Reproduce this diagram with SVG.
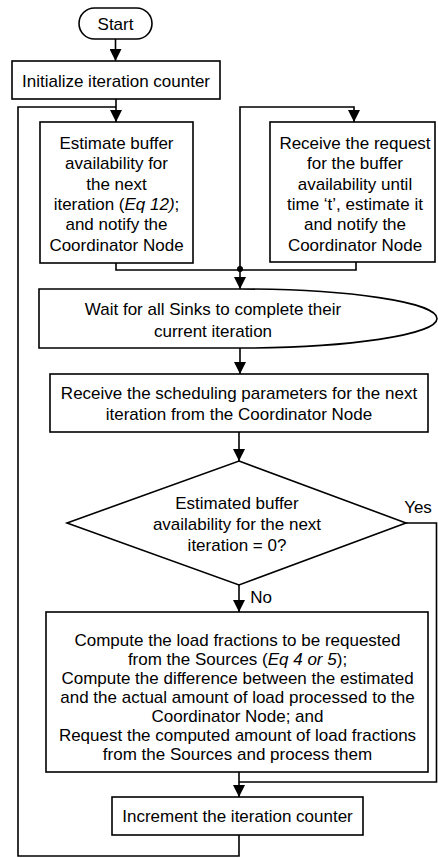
<svg xmlns="http://www.w3.org/2000/svg" width="438" height="858" viewBox="0 0 438 858">
<style>
.n{fill:#fff;stroke:#000;stroke-width:1.6}
.t{font-family:"Liberation Sans",Arial,sans-serif;font-size:17px;fill:#000;text-anchor:middle}
.c{fill:none;stroke:#000;stroke-width:1.6}
.i{font-style:italic}
</style>
<defs>
<marker id="ah" markerUnits="userSpaceOnUse" markerWidth="12" markerHeight="12" viewBox="0 0 12 12" refX="12" refY="6" orient="auto">
<path d="M0,0 L12,6 L0,12 Z" fill="#000"/>
</marker>
</defs>
<rect width="438" height="858" fill="#fff"/>
<g id="connectors">
<path class="c" d="M115.5,39 V61" marker-end="url(#ah)"/>
<path class="c" d="M116,99 V122" marker-end="url(#ah)"/>
<path class="c" d="M239,835 V856 H18 V107 H116"/>
<path class="c" d="M240,270 V107 H354 V122" marker-end="url(#ah)"/>
<path class="c" d="M116,263 V270 H356 V262"/>
<circle cx="240" cy="269" r="3" fill="#000"/>
<path class="c" d="M240,270 V289" marker-end="url(#ah)"/>
<path class="c" d="M240,348 V374" marker-end="url(#ah)"/>
<path class="c" d="M239,432 V461" marker-end="url(#ah)"/>
<path class="c" d="M239,585 V612" marker-end="url(#ah)"/>
<path class="c" d="M406,523 H436.5 V782 H239"/>
<path class="c" d="M239,772 V797" marker-end="url(#ah)"/>
<text class="t" x="418" y="513">Yes</text>
<text class="t" x="261" y="603">No</text>
</g>
<g id="start">
<rect class="n" x="79" y="8" width="73" height="31" rx="15.5"/>
<text class="t" x="115.5" y="30">Start</text>
</g>
<g id="init">
<rect class="n" x="12" y="61" width="208" height="38"/>
<text class="t" x="116" y="87">Initialize iteration counter</text>
</g>
<g id="estimate">
<rect class="n" x="40" y="122" width="153" height="141"/>
<text class="t" x="116.5" y="149">Estimate buffer</text>
<text class="t" x="116.5" y="169">availability for</text>
<text class="t" x="116.5" y="190">the next</text>
<text class="t" x="116.5" y="210">iteration (<tspan class="i">Eq 12)</tspan>;</text>
<text class="t" x="116.5" y="230">and notify the</text>
<text class="t" x="116.5" y="251">Coordinator Node</text>
</g>
<g id="receive-request">
<rect class="n" x="270" y="122" width="165" height="140"/>
<text class="t" x="355" y="149">Receive the request</text>
<text class="t" x="355" y="169">for the buffer</text>
<text class="t" x="355" y="190">availability until</text>
<text class="t" x="355" y="210">time ‘t’, estimate it</text>
<text class="t" x="355" y="230">and notify the</text>
<text class="t" x="355" y="251">Coordinator Node</text>
</g>
<g id="wait">
<path class="n" d="M39,289 H239 A198,29.5 0 0 1 239,348 H39 Z"/>
<text class="t" x="213" y="315">Wait for all Sinks to complete their</text>
<text class="t" x="213" y="337">current iteration</text>
</g>
<g id="receive-params">
<rect class="n" x="50" y="374" width="378" height="58"/>
<text class="t" x="239" y="399">Receive the scheduling parameters for the next</text>
<text class="t" x="239" y="420">iteration from the Coordinator Node</text>
</g>
<g id="decision">
<path class="n" d="M239,461 L406,523 L239,585 L67,523 Z"/>
<text class="t" x="237" y="509">Estimated buffer</text>
<text class="t" x="237" y="530">availability for the next</text>
<text class="t" x="237" y="551">iteration = 0?</text>
</g>
<g id="compute">
<rect class="n" x="46" y="612" width="382" height="160"/>
<text class="t" x="237.5" y="646">Compute the load fractions to be requested</text>
<text class="t" x="237.5" y="665">from the Sources (<tspan class="i">Eq 4 or 5</tspan>);</text>
<text class="t" x="237.5" y="684">Compute the difference between the estimated</text>
<text class="t" x="237.5" y="703">and the actual amount of load processed to the</text>
<text class="t" x="237.5" y="722">Coordinator Node; and</text>
<text class="t" x="237.5" y="741">Request the computed amount of load fractions</text>
<text class="t" x="237.5" y="760">from the Sources and process them</text>
</g>
<g id="increment">
<rect class="n" x="112" y="797" width="251" height="38"/>
<text class="t" x="237.5" y="822">Increment the iteration counter</text>
</g>
</svg>
